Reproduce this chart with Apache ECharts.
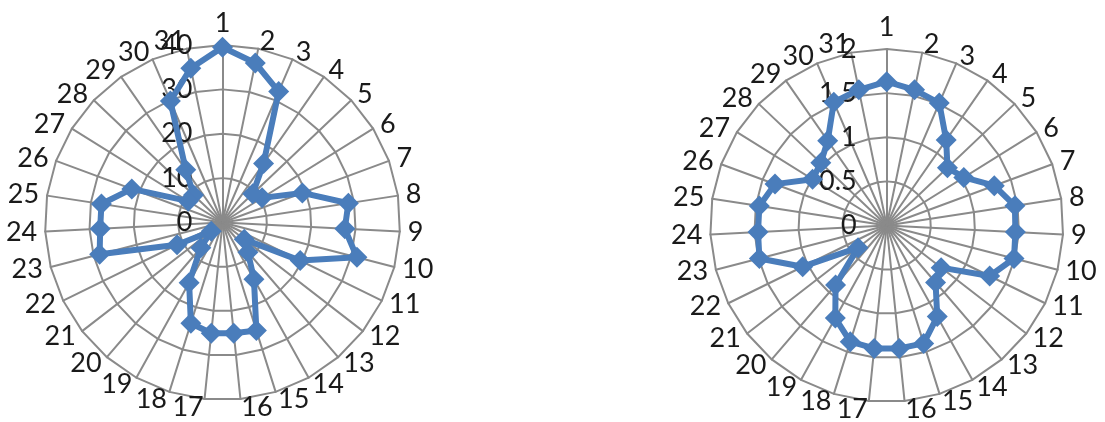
<!DOCTYPE html>
<html><head><meta charset="utf-8">
<script src="https://cdn.jsdelivr.net/npm/echarts@6/dist/echarts.min.js"></script>
<style>html,body{margin:0;padding:0;background:#fff}#c{width:1105px;height:422px}</style>
</head><body><div id="c"></div>
<script>
const categories = ['1','2','3','4','5','6','7','8','9','10','11','12','13','14','15','16','17','18','19','20','21','22','23','24','25','26','27','28','29','30','31'];
const leftValues = [39.5,36.7,32.1,16.2,9.4,10.5,19.2,28.7,27.6,31.3,19.5,6.2,8.8,14.6,25.5,25.1,25.1,23.8,15.5,7.5,3.2,11.4,28.6,27.6,27.6,21.8,9.1,9.0,14.5,29.8,35.5];
const rightValues = [1.63,1.57,1.51,1.18,0.95,1.03,1.30,1.47,1.46,1.49,1.30,0.78,0.85,1.18,1.40,1.40,1.40,1.38,1.20,0.89,0.41,1.06,1.49,1.46,1.46,1.35,0.99,1.03,1.17,1.52,1.57];
const leftTicks = ['0','10','20','30','40'];
const rightTicks = ['0','0.5','1','1.5','2'];

const FONT = 'Lato';
const TEXT = '#1a1a1a';
const LINE = '#4a7dbb';
const GRID = '#8a8a8a';
const FS = 27;

// ECharts lays indicators counter-clockwise; reorder so the picture runs clockwise
const order = [0].concat(categories.map((_, i) => i).slice(1).reverse());

function makeRadar(center, radius, ticks) {
  const max = parseFloat(ticks[ticks.length - 1]);
  return {
    center: center,
    radius: radius,
    startAngle: 90,
    shape: 'polygon',
    splitNumber: ticks.length - 1,
    indicator: order.map((idx, k) => {
      const ind = { name: categories[idx], min: 0, max: max };
      if (k === 0) {
        ind.axisLabel = { show: true, fontSize: FS, fontFamily: FONT, color: TEXT, margin: 30,
          formatter: v => String(v) };
      }
      return ind;
    }),
    axisName: { color: TEXT, fontSize: FS, fontFamily: FONT },
    nameGap: 8,
    axisLabel: { show: false },
    axisLine: { lineStyle: { color: GRID, width: 2 } },
    splitLine: { lineStyle: { color: GRID, width: 2 } },
    splitArea: { show: false },
    axisTick: { show: false }
  };
}

function makeSeries(radarIndex, values) {
  return {
    type: 'radar',
    radarIndex: radarIndex,
    symbol: 'diamond',
    symbolSize: 21,
    silent: true,
    lineStyle: { color: LINE, width: 6 },
    itemStyle: { color: LINE },
    data: [{ value: order.map(i => values[i]) }]
  };
}

const chart = echarts.init(document.getElementById('c'));
chart.setOption({
  animation: false,
  backgroundColor: '#fff',
  radar: [
    makeRadar([222.5, 222.5], 177.5, leftTicks),
    makeRadar([886.7, 225.5], 176.5, rightTicks)
  ],
  series: [makeSeries(0, leftValues), makeSeries(1, rightValues)]
});
</script></body></html>
